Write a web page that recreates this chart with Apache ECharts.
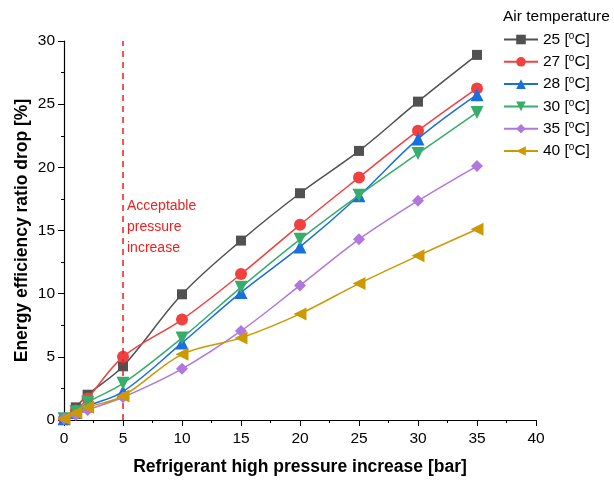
<!DOCTYPE html>
<html><head><meta charset="utf-8">
<script src="https://cdn.jsdelivr.net/npm/echarts@6/dist/echarts.min.js"></script>
<style>html,body{margin:0;padding:0;background:#fff}#c{width:614px;height:481px}</style>
</head><body><div id="c"></div>
<script>
const xValues = [0, 1, 2, 5, 10, 15, 20, 25, 30, 35];
const seriesNames = ['25', '27', '28', '30', '35', '40'];
const t25 = [0.1, 1.0, 2.0, 4.25, 9.95, 14.2, 17.95, 21.3, 25.2, 28.9];
const t27 = [0.1, 0.75, 1.7, 5.0, 7.95, 11.55, 15.45, 19.2, 22.9, 26.25];
const t28 = [0.1, 0.6, 1.1, 2.25, 6.1, 10.1, 13.7, 17.75, 22.25, 25.75];
const t30 = [0.1, 0.65, 1.4, 2.9, 6.5, 10.5, 14.3, 17.8, 21.1, 24.35];
const t35 = [0.1, 0.4, 0.8, 1.8, 4.05, 7.05, 10.65, 14.3, 17.35, 20.1];
const t40 = [0.1, 0.55, 1.0, 1.9, 5.2, 6.5, 8.4, 10.8, 13.0, 15.1];
const xTicks = [0, 5, 10, 15, 20, 25, 30, 35, 40];
const yTicks = [0, 5, 10, 15, 20, 25, 30];
const limitPressure = 5;

const colors = ['#515151', '#F14040', '#1A6FDF', '#37AD6B', '#B177DE', '#CC9900'];
const symbols = ['rect', 'circle', 'triangle', 'triangle', 'diamond', 'triangle'];
const rotations = [0, 0, 0, 180, 0, 90];
const sizes = [10, 12, 13, 13, 12, 13];
const allData = [t25, t27, t28, t30, t35, t40];

const series = allData.map((vals, i) => ({
  name: seriesNames[i] + ' [{s|o}C]',
  type: 'line',
  smooth: 0.35,
  data: xValues.map((x, j) => [x, vals[j]]),
  symbol: symbols[i],
  symbolRotate: rotations[i],
  symbolSize: sizes[i],
  lineStyle: { color: colors[i], width: 1.5 },
  itemStyle: { color: colors[i] },
  z: 3 + i
}));
series[0].markLine = {
  silent: true,
  symbol: ['none', 'none'],
  label: { show: false },
  lineStyle: { color: '#F01E1E', type: [6, 5], width: 1.5 },
  data: [{ xAxis: limitPressure }]
};

const chart = echarts.init(document.getElementById('c'), null, { renderer: 'canvas' });
const fontFamily = 'Arial, "Liberation Sans", sans-serif';
chart.setOption({
  animation: false,
  textStyle: { fontFamily },
  grid: { left: 64, right: 78, top: 41, bottom: 60, containLabel: false },
  xAxis: {
    type: 'value', min: 0, max: 40, interval: 5,
    name: 'Refrigerant high pressure increase [bar]',
    nameLocation: 'middle', nameGap: 38, nameMoveOverlap: false,
    nameTextStyle: { fontSize: 17.5, fontWeight: 'bold', color: '#000', fontFamily },
    axisLine: { lineStyle: { color: '#000', width: 1.2 } },
    axisTick: { inside: false, length: 6, lineStyle: { color: '#000' } },
    minorTick: { show: true, splitNumber: 2, length: 3, lineStyle: { color: '#000' } },
    axisLabel: { fontSize: 15.5, color: '#000', margin: 11,
      formatter: v => xTicks.includes(v) ? String(v) : '' },
    splitLine: { show: false }
  },
  yAxis: {
    type: 'value', min: 0, max: 30, interval: 5,
    name: 'Energy efficiency ratio drop [%]',
    nameLocation: 'middle', nameGap: 33, nameRotate: 90, nameMoveOverlap: false,
    nameTextStyle: { fontSize: 17.5, fontWeight: 'bold', color: '#000', fontFamily },
    axisLine: { show: true, lineStyle: { color: '#000', width: 1.2 } },
    axisTick: { show: true, inside: false, length: 6, lineStyle: { color: '#000' } },
    minorTick: { show: true, splitNumber: 2, length: 3, lineStyle: { color: '#000' } },
    axisLabel: { fontSize: 15.5, color: '#000', margin: 9,
      formatter: v => yTicks.includes(v) ? String(v) : '' },
    splitLine: { show: false }
  },
  title: {
    text: 'Air temperature', left: 503, top: 9, padding: 0,
    textStyle: { fontSize: 15.5, fontWeight: 'normal', color: '#000', fontFamily }
  },
  legend: {
    orient: 'vertical', left: 503, top: 31, padding: 0,
    itemWidth: 34, itemHeight: 12, itemGap: 5.3,
    textStyle: {
      fontSize: 15.5, color: '#000', fontFamily, lineHeight: 17,
      rich: { s: { fontSize: 10, verticalAlign: 'top', padding: [0, 0, 7, 0], color: '#000' } }
    },
    data: series.map(s => s.name)
  },
  graphic: [{
    type: 'text', left: 127, top: 196,
    style: { text: 'Acceptable\npressure\nincrease', fill: '#F01E1E', fontSize: 14,
      lineHeight: 21, fontFamily }
  }],
  series
});
</script></body></html>
